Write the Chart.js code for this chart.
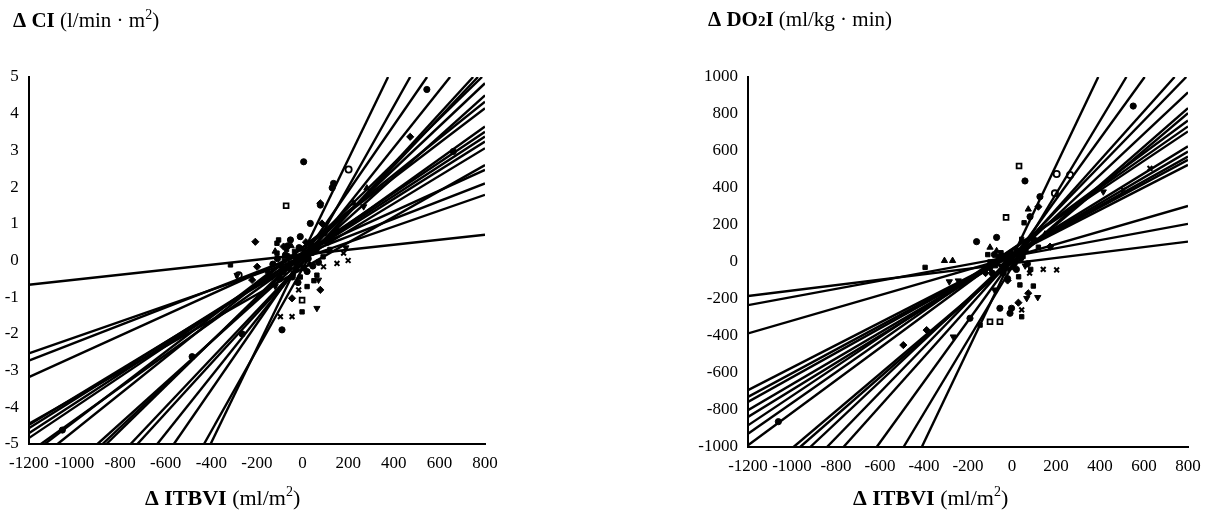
<!DOCTYPE html>
<html>
<head>
<meta charset="utf-8">
<script src="https://cdn.jsdelivr.net/npm/chart.js@4.4.1/dist/chart.umd.min.js"></script>
<style>
  html, body { margin: 0; padding: 0; background: #fff; }
  #wrap { position: relative; width: 1220px; height: 513px; }
  canvas { position: absolute; top: 0; }
  #ci_chart { left: 0; }
  #do_chart { left: 610px; }
</style>
</head>
<body>
<div id="wrap">
  <canvas id="ci_chart" width="610" height="513"></canvas>
  <canvas id="do_chart" width="610" height="513"></canvas>
</div>
<script>
// ---- shared x axis ----
const xTicks = [-1200, -1000, -800, -600, -400, -200, 0, 200, 400, 600, 800];

// ---- left chart: delta CI ----
const ciTicks = [-5, -4, -3, -2, -1, 0, 1, 2, 3, 4, 5];

// regression lines: where each line enters (start) and leaves (end) the plot
const ciLineStart = [
  [-1200, -0.66], [-1200, -2.53], [-1200, -2.73], [-1200, -3.18], [-1200, -4.45],
  [-1200, -4.48], [-1200, -4.57], [-1200, -4.71], [-1200, -4.84], [-1147, -5],
  [-1130, -5], [-1074, -5], [-899, -5], [-877, -5], [-860, -5],
  [-754, -5], [-724, -5], [-637, -5], [-564, -5], [-432, -5], [-403, -5]
];
const ciLineEnd = [
  [800, 0.70], [800, 1.79], [800, 2.10], [800, 2.47], [800, 2.60],
  [800, 3.06], [800, 3.24], [800, 3.38], [800, 3.51], [800, 3.65],
  [800, 4.15], [800, 4.33], [800, 4.50], [800, 4.83], [787, 5],
  [769, 5], [748, 5], [647, 5], [546, 5], [472, 5], [375, 5]
];

const ciCircles = [[5, 2.69], [136, 2.10], [78, 1.51], [34, 1.01], [-10, 0.65], [-265, -2.0],
  [-90, -1.89], [545, 4.66], [-484, -2.62], [-1053, -4.62], [-53, 0.56], [-60, -0.2],
  [-30, 0.1], [20, -0.3], [60, 0.3], [-100, -0.5], [110, 0.5], [-20, -0.6], [45, -0.15],
  [-130, -0.1], [150, 0.8], [661, 2.97], [130, 1.98], [-75, 0.15], [-45, -0.45],
  [-15, 0.35], [25, 0.05], [70, -0.05], [-110, 0.05], [-85, -0.3], [5, -0.2], [35, 0.45],
  [95, 0.75], [-140, -0.45], [-65, 0.4]];
const ciSquares = [[-105, 0.56], [63, -0.40], [20, -0.71], [-2, -1.40], [-316, -0.12],
  [-112, 0.47], [-112, 0.2], [-80, 0.0], [40, 0.2], [-40, -0.35], [90, 0.1], [-70, 0.3],
  [-55, -0.05], [-25, -0.25], [10, 0.15], [50, -0.55], [-95, -0.15], [-35, 0.25],
  [120, 0.3], [-10, -0.45]];
const ciTriangles = [[282, 1.97], [224, 1.56], [-150, -0.3], [120, 0.6], [-50, 0.4], [0, 0.3],
  [-120, 0.25], [30, -0.1]];
const ciInvTriangles = [[63, -1.30], [-287, -0.40], [70, -0.53], [-180, -0.6], [268, 1.47],
  [190, 0.35], [-120, -0.7], [-30, -0.1]];
const ciDiamonds = [[-207, 0.51], [-199, -0.17], [78, -0.80], [78, 1.56], [-46, -1.03],
  [-221, -0.53], [85, 1.01], [-83, 0.38], [472, 3.37], [-60, 0.1], [15, 0.5]];
const ciCrosses = [[92, -0.17], [151, -0.08], [180, 0.20], [-17, -0.80], [-97, -1.53],
  [-46, -1.53], [10, 0.0], [200, 0.0]];
const ciOpenSquares = [[-72, 1.49], [-2, -1.08]];
const ciOpenCircles = [[202, 2.48], [-280, -0.4]];

// ---- right chart: delta DO2I ----
const doTicks = [-1000, -800, -600, -400, -200, 0, 200, 400, 600, 800, 1000];

const doLineStart = [
  [-1200, -184], [-1200, -233], [-1200, -386], [-1200, -693], [-1200, -729],
  [-1200, -756], [-1200, -801], [-1200, -838], [-1200, -883], [-1200, -928],
  [-1200, -991], [-993, -1000], [-963, -1000], [-917, -1000], [-841, -1000],
  [-766, -1000], [-615, -1000], [-493, -1000], [-410, -1000]
];
const doLineEnd = [
  [800, 110], [800, 206], [800, 303], [800, 525], [800, 552],
  [800, 570], [800, 597], [800, 625], [800, 706], [800, 733],
  [800, 765], [800, 805], [800, 832], [800, 917], [792, 1000],
  [739, 1000], [603, 1000], [520, 1000], [392, 1000]
];

const doCircles = [[59, 438], [-70, 133], [-161, 110], [-2, -250], [551, 843], [-55, -250],
  [-9, -277], [127, 353], [82, 245], [-191, -304], [-1062, -863], [-30, 20], [20, -40],
  [60, 60], [-90, -60], [100, 120], [-60, 10], [-40, -60], [-10, 30], [10, -10], [40, 20],
  [-80, 40], [-20, -90], [70, -10], [-100, -30], [25, 60]];
const doSquares = [[55, 212], [44, 123], [97, -130], [36, -124], [-395, -29], [-145, -341],
  [44, -296], [-60, 30], [30, -80], [-100, 0], [120, 80], [-75, -20], [-50, 50], [0, -30],
  [50, 30], [-30, 0], [-110, 40], [85, -40]];
const doTriangles = [[74, 285], [-100, 79], [-270, 7], [-307, 7], [0, 50], [-40, -20], [150, 150],
  [-70, 60], [20, 10]];
const doInvTriangles = [[-244, -101], [117, -191], [-285, -106], [-267, -404], [415, 380],
  [67, -196], [-80, -150], [60, -20], [-15, -40]];
const doDiamonds = [[-494, -449], [-388, -368], [29, -220], [74, -169], [120, 299], [173, 83],
  [-20, -100], [-120, -60], [-45, 35]];
const doCrosses = [[203, -43], [142, -40], [506, 389], [627, 506], [44, -259], [-50, -30], [80, -60]];
const doOpenSquares = [[32, 519], [-27, 241], [-55, -323], [-100, -323]];
const doOpenCircles = [[264, 470], [203, 476], [195, 371]];

// ---- titles (drawn as text runs) ----
const SERIF = '"Liberation Serif", "DejaVu Serif", serif';
const ciTitle = [
  { text: "\u0394 CI ", font: "bold 21px " + SERIF },
  { text: "(l/min \u00b7 m", font: "21px " + SERIF },
  { text: "2", font: "14px " + SERIF, dy: -8 },
  { text: ")", font: "21px " + SERIF }
];
const doTitle = [
  { text: "\u0394 DO", font: "bold 21px " + SERIF },
  { text: "2", font: "bold 15px " + SERIF },
  { text: "I ", font: "bold 21px " + SERIF },
  { text: "(ml/kg \u00b7 min)", font: "21px " + SERIF }
];
const xTitle = [
  { text: "\u0394 ITBVI ", font: "bold 22px " + SERIF },
  { text: "(ml/m", font: "22px " + SERIF },
  { text: "2", font: "14px " + SERIF, dy: -9 },
  { text: ")", font: "22px " + SERIF }
];

function drawRuns(ctx, x, y, runs) {
  ctx.save();
  ctx.fillStyle = "#000";
  ctx.textBaseline = "alphabetic";
  ctx.textAlign = "left";
  for (const r of runs) {
    ctx.font = r.font;
    ctx.fillText(r.text, x, y + (r.dy || 0));
    x += ctx.measureText(r.text).width;
  }
  ctx.restore();
}

function toXY(arr) {
  return arr.map(p => ({ x: p[0], y: p[1] }));
}

function lineSets(starts, ends) {
  return starts.map((s, i) => ({
    type: "line",
    data: toXY([s, ends[i]]),
    borderColor: "#000",
    borderWidth: 2.4,
    pointRadius: 0,
    fill: false,
    tension: 0
  }));
}

function markerSet(points, style, opts) {
  return Object.assign({
    type: "scatter",
    data: toXY(points),
    pointStyle: style,
    pointRadius: 3.1,
    pointBackgroundColor: "#000",
    pointBorderColor: "#000",
    pointBorderWidth: 1
  }, opts || {});
}

function makeChart(canvasId, cfg) {
  const ctx = document.getElementById(canvasId).getContext("2d");
  const tickFont = { family: SERIF, size: 17 };
  return new Chart(ctx, {
    type: "scatter",
    data: {
      datasets: lineSets(cfg.starts, cfg.ends).concat([
        markerSet(cfg.circles, "circle"),
        markerSet(cfg.squares, "rect"),
        markerSet(cfg.triangles, "triangle", { pointRadius: 3.6 }),
        markerSet(cfg.invTriangles, "triangle", { pointRadius: 3.6, pointRotation: 180 }),
        markerSet(cfg.diamonds, "rectRot", { pointRadius: 3.6 }),
        markerSet(cfg.crosses, "crossRot", { pointRadius: 3.4, pointBorderWidth: 2 }),
        markerSet(cfg.openSquares, "rect", { pointBackgroundColor: "#fff", pointBorderWidth: 1.8, pointRadius: 3.4 }),
        markerSet(cfg.openCircles, "circle", { pointBackgroundColor: "#fff", pointBorderWidth: 1.8 })
      ])
    },
    options: {
      responsive: false,
      animation: false,
      devicePixelRatio: 1,
      layout: { padding: { left: 0, right: cfg.padRight, top: 77, bottom: 0 } },
      plugins: { legend: { display: false }, tooltip: { enabled: false } },
      scales: {
        x: {
          type: "linear",
          min: -1200,
          max: 800,
          afterBuildTicks: s => { s.ticks = xTicks.map(v => ({ value: v })); },
          afterFit: s => { s.height = cfg.xHeight; },
          grid: { display: false, drawTicks: false },
          border: { display: true, color: "#000", width: 2 },
          ticks: {
            autoSkip: false, maxRotation: 0, minRotation: 0, padding: 9,
            color: "#000", font: tickFont,
            callback: v => String(v)
          }
        },
        y: {
          type: "linear",
          min: cfg.yTicks[0],
          max: cfg.yTicks[cfg.yTicks.length - 1],
          afterBuildTicks: s => { s.ticks = cfg.yTicks.map(v => ({ value: v })); },
          afterFit: s => { s.width = cfg.yWidth; },
          grid: { display: false, drawTicks: false },
          border: { display: true, color: "#000", width: 2 },
          ticks: {
            autoSkip: false, padding: 10, color: "#000", font: tickFont,
            callback: v => String(v)
          }
        }
      }
    },
    plugins: [{
      id: "titles",
      afterDraw(chart) {
        drawRuns(chart.ctx, cfg.titleX, cfg.titleY, cfg.title);
        drawRuns(chart.ctx, cfg.xTitleX, 505, xTitle);
      }
    }]
  });
}

makeChart("ci_chart", {
  starts: ciLineStart, ends: ciLineEnd, yTicks: ciTicks,
  circles: ciCircles, squares: ciSquares, triangles: ciTriangles, invTriangles: ciInvTriangles,
  diamonds: ciDiamonds, crosses: ciCrosses, openSquares: ciOpenSquares, openCircles: ciOpenCircles,
  padRight: 125, xHeight: 69, yWidth: 28,
  title: ciTitle, titleX: 13, titleY: 27, xTitleX: 145
});

makeChart("do_chart", {
  starts: doLineStart, ends: doLineEnd, yTicks: doTicks,
  circles: doCircles, squares: doSquares, triangles: doTriangles, invTriangles: doInvTriangles,
  diamonds: doDiamonds, crosses: doCrosses, openSquares: doOpenSquares, openCircles: doOpenCircles,
  padRight: 32, xHeight: 66, yWidth: 138,
  title: doTitle, titleX: 98, titleY: 26, xTitleX: 243
});
</script>
</body>
</html>
